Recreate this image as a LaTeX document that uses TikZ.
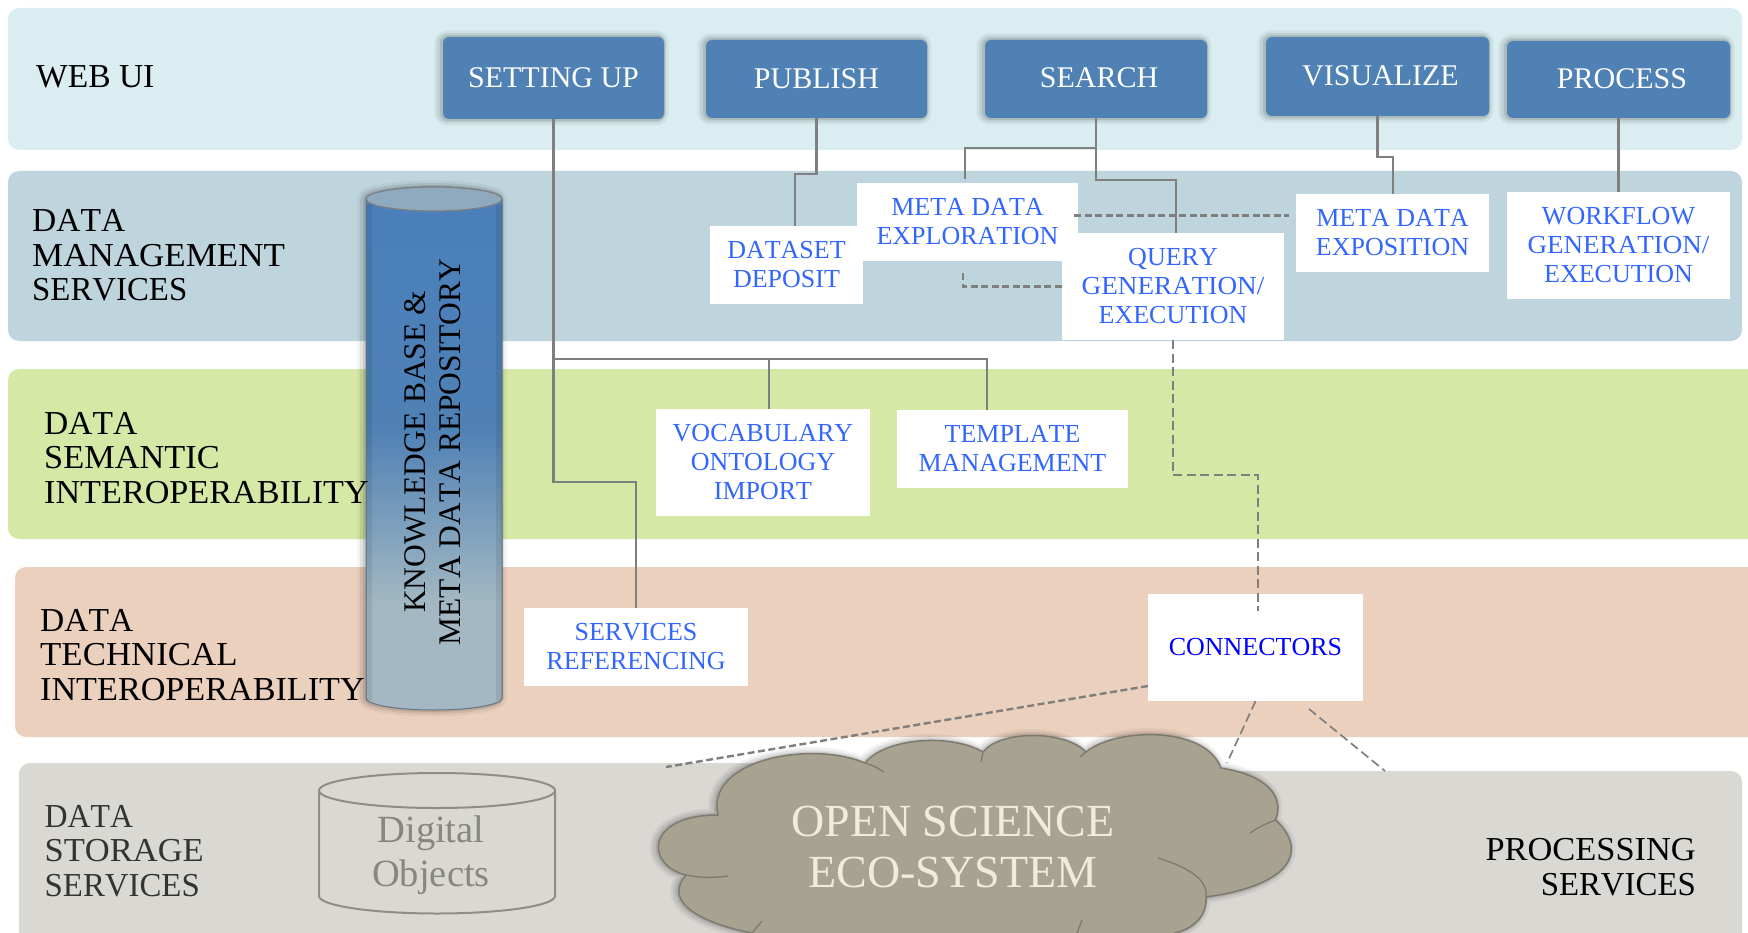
\documentclass[tikz,border=0pt]{standalone}
\usepackage{graphicx}
\usepackage{fontspec}
\setmainfont[Kerning=Off]{Liberation Serif}
\definecolor{bandA}{HTML}{DAEEF1}
\definecolor{bandB}{HTML}{BFD5DE}
\definecolor{bandC}{HTML}{D6E8A5}
\definecolor{bandD}{HTML}{EBD0BE}
\definecolor{bandE}{HTML}{D9D8D3}
\definecolor{boxblue}{HTML}{4F81B5}
\definecolor{linkblue}{HTML}{3366FF}
\definecolor{linegray}{HTML}{7F7F7F}
\definecolor{cloudfill}{HTML}{A8A290}
\definecolor{cloudedge}{HTML}{7D7A70}
\definecolor{dbgray}{HTML}{8E8E86}
\definecolor{kbtop}{HTML}{4A7FBB}
\definecolor{kbbot}{HTML}{A3B8C2}
\definecolor{kbcap}{HTML}{8FAABF}
\definecolor{clouded}{HTML}{EFEBDD}
\newcommand{\wider}[2]{\scalebox{#1}[1]{#2}}
\pgfdeclareverticalshading{kbshade}{100bp}{color(0bp)=(kbbot); color(25bp)=(kbbot); color(35bp)=(kbbot); color(52bp)=(boxblue); color(75bp)=(kbtop); color(100bp)=(kbtop)}
\tikzset{
  band/.style={rounded corners=11pt,draw=none},
  softshadow/.style={
    preaction={draw=black,draw opacity=.05,line width=13pt,line join=round,transform canvas={xshift=-2pt,yshift=0pt}},
    preaction={draw=black,draw opacity=.07,line width=8pt,line join=round,transform canvas={xshift=-2pt,yshift=0pt}},
    preaction={draw=black,draw opacity=.10,line width=4pt,line join=round,transform canvas={xshift=-1pt,yshift=0pt}}},
  bluebox/.style={softshadow,fill=boxblue,rounded corners=6pt,text=white,inner sep=0pt,align=center,
    font=\fontsize{30}{33}\selectfont},
  whitebox/.style={fill=white,text=linkblue,inner sep=0pt,align=center,
    font=\fontsize{26}{29}\selectfont},
  lefttext/.style={anchor=west,align=left,inner sep=0pt,text=black,
    font=\fontsize{33.5}{34.5}\selectfont},
  conn/.style={draw=linegray,line width=2.2pt,line join=miter},
  dashconn/.style={draw=linegray,line width=2.4pt,dash pattern=on 7pt off 3.5pt},
  thindash/.style={draw=linegray,line width=1.7pt,dash pattern=on 9pt off 4.5pt},
}
\begin{document}
\begin{tikzpicture}[x=1pt,y=-1pt]
\useasboundingbox (0,0) rectangle (1748,933);
\clip (0,0) rectangle (1748,933);
% bands
\fill[band,bandA] (8,8) rectangle (1742,150);
\fill[band,bandB] (8,171) rectangle (1742,341);
\fill[band,bandC] (8,369) rectangle (1760,539);
\fill[band,bandD] (15,567) rectangle (1760,737);
\fill[band,bandE] (19,763) rectangle (900,960);
\fill[band,bandE] (800,771) rectangle (1742,960);
% cloud
\path[softshadow,fill=cloudfill,draw=cloudedge,line width=1.5pt]
  (752,933) .. controls (710,925) and (660,905) .. (686,875)
  .. controls (645,865) and (645,815) .. (718,815)
  .. controls (705,760) and (810,740) .. (865,763)
  .. controls (885,738) and (950,733) .. (983,752)
  .. controls (1000,730) and (1065,730) .. (1086,752)
  .. controls (1115,728) and (1205,725) .. (1221,768)
  .. controls (1265,775) and (1285,795) .. (1275.5,820)
  .. controls (1308,850) and (1293,885) .. (1206,897)
  .. controls (1207,915) and (1195,928) .. (1175,933)
  -- (1175,945) -- (752,945) -- cycle;
\draw[cloudedge,line width=1.3pt]
  (686,875) .. controls (700,878) and (715,878) .. (728,876)
  (865,763) .. controls (872,765) and (878,768) .. (884,772)
  (983,752) -- (981,762)
  (1086,752) -- (1080,757)
  (1275.5,820) .. controls (1265,824) and (1257,828) .. (1250,833)
  (1158,858) .. controls (1190,868) and (1208,880) .. (1206,897)
  (752,933) -- (762,921)
  (1077,933) -- (1082,920);
\node[font=\fontsize{46}{51}\selectfont,text=clouded,align=center,inner sep=0pt] (eco) at (953,847)
  {OPEN SCIENCE\\ECO-SYSTEM};
% digital objects store
\path[draw=dbgray,line width=2pt]
  (319,790.5) -- (319,896) arc[start angle=180,end angle=0,x radius=118,y radius=17.5] -- (555,790.5);
\draw[dbgray,line width=2pt] (437,790.5) ellipse[x radius=118,y radius=17.5];
\node[font=\fontsize{38.5}{44}\selectfont,text=dbgray!95!black,align=center,inner sep=0pt] (objects) at (431,855)
  {Digital\\Objects};
% knowledge base cylinder
\path[softshadow,draw=none,fill=boxblue]
  (366,199) -- (366,698) arc[start angle=180,end angle=0,x radius=68,y radius=12] -- (502,199)
  arc[start angle=0,end angle=180,x radius=68,y radius=-12] -- cycle;
\path[shading=kbshade,draw=kbcap!70!black,line width=1pt]
  (366,199) -- (366,698) arc[start angle=180,end angle=0,x radius=68,y radius=12] -- (502,199)
  arc[start angle=0,end angle=180,x radius=68,y radius=-12] -- cycle;
\fill[black,opacity=.08] (366,205) rectangle (372,700) (496,205) rectangle (502,700);
\draw[fill=kbcap,draw=gray,line width=1.2pt] (434,199) ellipse[x radius=68,y radius=12];
\node[rotate=90,align=center,inner sep=0pt,font=\fontsize{31.5}{35}\selectfont,text=black] (kb) at (432.5,452)
  {KNOWLEDGE BASE \&\\META DATA REPOSITORY};
% left labels
\node[lefttext] (web) at (36,77) {WEB UI};
\node[lefttext] (mgmt) at (32,255.5) {DATA\\\wider{1.045}{MANAGEMENT}\\\wider{.98}{SERVICES}};
\node[lefttext] (sem) at (44,458) {DATA\\\wider{1.025}{SEMANTIC}\\\wider{1.02}{INTEROPERABILITY}};
\node[lefttext] (tech) at (40,655) {DATA\\\wider{1.04}{TECHNICAL}\\\wider{1.02}{INTEROPERABILITY}};
\node[lefttext,text=black!80] (stor) at (44.5,851) {\wider{.95}{DATA}\\\wider{1.03}{STORAGE}\\\wider{.98}{SERVICES}};
\node[lefttext,anchor=east,align=right] (procserv) at (1696,867) {\wider{1.027}{PROCESSING}\\\wider{.98}{SERVICES}};
% web UI boxes
\node[bluebox,minimum width=221pt,minimum height=82pt] (setup) at (553.5,78) {SETTING UP};
\node[bluebox,minimum width=221pt,minimum height=78pt] (pub) at (816.5,79) {PUBLISH};
\node[bluebox,minimum width=222pt,minimum height=78pt] (search) at (1096,79) {\raisebox{2pt}{\hspace{6pt}SEARCH}};
\node[bluebox,minimum width=223pt,minimum height=79pt] (vis) at (1377.5,76.5) {\raisebox{2pt}{\hspace{6pt}VISUALIZE}};
\node[bluebox,minimum width=223pt,minimum height=77pt] (proc) at (1618.5,79.5) {\raisebox{2pt}{\hspace{7pt}PROCESS}};
% white service boxes
\node[whitebox,minimum width=153pt,minimum height=78pt] (dep) at (786.5,265) {DATASET\\DEPOSIT};
\node[whitebox,minimum width=221pt,minimum height=78pt] (expl) at (967.5,222) {META DATA\\EXPLORATION};
\node[whitebox,minimum width=222pt,minimum height=107pt] (query) at (1173,286.5) {QUERY\\\wider{1.045}{GENERATION/}\\EXECUTION};
\node[whitebox,minimum width=193pt,minimum height=78pt] (expo) at (1392.5,233) {META DATA\\EXPOSITION};
\node[whitebox,minimum width=223pt,minimum height=107pt] (wf) at (1618.5,245.5) {WORKFLOW\\\wider{1.04}{GENERATION/}\\EXECUTION};
\node[whitebox,minimum width=214pt,minimum height=107pt] (vocab) at (763,462.5) {VOCABULARY\\ONTOLOGY\\IMPORT};
\node[whitebox,minimum width=231pt,minimum height=78pt] (templ) at (1012.5,449) {TEMPLATE\\MANAGEMENT};
\node[whitebox,minimum width=224pt,minimum height=78pt] (serv) at (636,647) {SERVICES\\REFERENCING};
\node[whitebox,text=blue,minimum width=215pt,minimum height=107pt] (conx) at (1255.5,647.5) {CONNECTORS};
% connector waypoints
\coordinate (u1) at (636,482);
\coordinate (u2) at (769,359);
\coordinate (u3) at (987,359);
\coordinate (p1) at (795,174);
\coordinate (s2) at (965,148);
\coordinate (s3) at (1176,180);
\coordinate (v1) at (1393,157);
\coordinate (d1) at (1074,215.5);
\coordinate (d2) at (1289,215.5);
\coordinate (d4) at (963,270);
\coordinate (d5) at (1258,475);
\coordinate (d6) at (1258,611);
\coordinate (c1) at (1148,686);
\coordinate (c2) at (666,767);
\coordinate (c3) at (1227,763);
\coordinate (c4) at (1309,709);
\coordinate (c5) at (1385,771);
% solid connectors
\draw[conn] (setup.south) |- (u1) -- (u1 |- serv.north);
\draw[conn] (setup.south) |- (u3) -- (u3 |- templ.north);
\draw[conn] (u2) -- (u2 |- vocab.north);
\draw[conn] (pub.south) |- (p1) -- (p1 |- dep.north);
\draw[conn] (search.south) |- (s2) -- ++(0,31);
\draw[conn] (search.south) |- (s3) -- (s3 |- query.north);
\draw[conn] (vis.south) |- (v1) -- (v1 |- expo.north);
\draw[conn] (proc.south) -- (wf.north);
% dashed connectors
\draw[dashconn] (d1) -- (d2);
\draw[dashconn] (query.west) -| (d4);
\draw[thindash] (query.south) |- (d5) -- (d6);
\draw[dashconn] (c1) -- (c2);
\draw[thindash] (conx.south) -- (c3);
\draw[thindash] (c4) -- (c5);
\end{tikzpicture}
\end{document}
